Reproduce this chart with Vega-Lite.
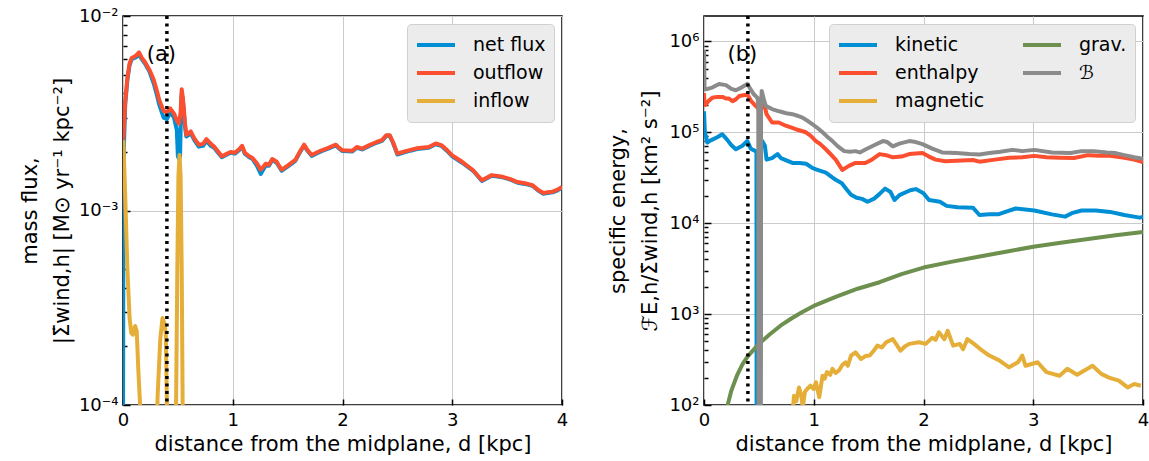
{
  "$schema": "https://vega.github.io/schema/vega-lite/v6.json",
  "background": "white",
  "padding": {"left": 18, "top": 6, "right": 2, "bottom": 4},
  "spacing": 38,
  "config": {
    "font": "DejaVu Sans",
    "view": {"stroke": "black", "strokeWidth": 1.5},
    "axis": {
      "labelFont": "DejaVu Sans", "titleFont": "DejaVu Sans",
      "labelFontSize": 18, "titleFontSize": 21, "titleFontWeight": "normal",
      "labelColor": "black", "titleColor": "black",
      "domain": false, "tickColor": "black", "tickWidth": 1.5,
      "gridColor": "#cbcbcb", "gridWidth": 1, "labelOverlap": false, "labelFlush": false
    },
    "legend": {
      "labelFont": "DejaVu Sans", "labelFontSize": 19, "labelColor": "black"
    }
  },
  "datasets": {
    "flux": [
      {"d":0.0,"v":0.00005,"s":"net flux"},{"d":0.004,"v":0.0015,"s":"net flux"},{"d":0.01,"v":0.0023,"s":"net flux"},{"d":0.02,"v":0.0035,"s":"net flux"},{"d":0.04,"v":0.0047,"s":"net flux"},{"d":0.06,"v":0.0056,"s":"net flux"},{"d":0.08,"v":0.006,"s":"net flux"},{"d":0.11,"v":0.0061,"s":"net flux"},{"d":0.146,"v":0.0063,"s":"net flux"},{"d":0.17,"v":0.006,"s":"net flux"},{"d":0.2,"v":0.0057,"s":"net flux"},{"d":0.24,"v":0.0052,"s":"net flux"},{"d":0.28,"v":0.0045,"s":"net flux"},{"d":0.31,"v":0.0039,"s":"net flux"},{"d":0.33,"v":0.0035,"s":"net flux"},{"d":0.37,"v":0.003,"s":"net flux"},{"d":0.4,"v":0.00295,"s":"net flux"},{"d":0.43,"v":0.0032,"s":"net flux"},{"d":0.465,"v":0.003,"s":"net flux"},{"d":0.49,"v":0.0026,"s":"net flux"},{"d":0.5,"v":0.0019,"s":"net flux"},{"d":0.51,"v":0.00185,"s":"net flux"},{"d":0.52,"v":0.0019,"s":"net flux"},{"d":0.53,"v":0.0035,"s":"net flux"},{"d":0.535,"v":0.004,"s":"net flux"},{"d":0.545,"v":0.0037,"s":"net flux"},{"d":0.555,"v":0.0032,"s":"net flux"},{"d":0.565,"v":0.0027,"s":"net flux"},{"d":0.577,"v":0.0024,"s":"net flux"},{"d":0.6,"v":0.00245,"s":"net flux"},{"d":0.617,"v":0.0025,"s":"net flux"},{"d":0.65,"v":0.0023,"s":"net flux"},{"d":0.69,"v":0.00213,"s":"net flux"},{"d":0.73,"v":0.00215,"s":"net flux"},{"d":0.76,"v":0.00228,"s":"net flux"},{"d":0.8,"v":0.00215,"s":"net flux"},{"d":0.83,"v":0.0021,"s":"net flux"},{"d":0.87,"v":0.00197,"s":"net flux"},{"d":0.9,"v":0.00188,"s":"net flux"},{"d":0.94,"v":0.00193,"s":"net flux"},{"d":0.98,"v":0.00198,"s":"net flux"},{"d":1.02,"v":0.00196,"s":"net flux"},{"d":1.06,"v":0.00205,"s":"net flux"},{"d":1.085,"v":0.00213,"s":"net flux"},{"d":1.11,"v":0.00196,"s":"net flux"},{"d":1.15,"v":0.00188,"s":"net flux"},{"d":1.18,"v":0.00184,"s":"net flux"},{"d":1.22,"v":0.0017,"s":"net flux"},{"d":1.255,"v":0.00154,"s":"net flux"},{"d":1.28,"v":0.00163,"s":"net flux"},{"d":1.3,"v":0.0017,"s":"net flux"},{"d":1.33,"v":0.0017,"s":"net flux"},{"d":1.36,"v":0.00182,"s":"net flux"},{"d":1.4,"v":0.00176,"s":"net flux"},{"d":1.445,"v":0.0016,"s":"net flux"},{"d":1.5,"v":0.00168,"s":"net flux"},{"d":1.57,"v":0.0018,"s":"net flux"},{"d":1.61,"v":0.00198,"s":"net flux"},{"d":1.65,"v":0.00216,"s":"net flux"},{"d":1.68,"v":0.00203,"s":"net flux"},{"d":1.72,"v":0.00191,"s":"net flux"},{"d":1.76,"v":0.00196,"s":"net flux"},{"d":1.81,"v":0.00202,"s":"net flux"},{"d":1.87,"v":0.00208,"s":"net flux"},{"d":1.94,"v":0.00216,"s":"net flux"},{"d":1.97,"v":0.00208,"s":"net flux"},{"d":2.0,"v":0.00202,"s":"net flux"},{"d":2.09,"v":0.00201,"s":"net flux"},{"d":2.13,"v":0.0021,"s":"net flux"},{"d":2.18,"v":0.00206,"s":"net flux"},{"d":2.245,"v":0.00215,"s":"net flux"},{"d":2.31,"v":0.00223,"s":"net flux"},{"d":2.36,"v":0.00228,"s":"net flux"},{"d":2.4,"v":0.00242,"s":"net flux"},{"d":2.43,"v":0.00242,"s":"net flux"},{"d":2.46,"v":0.00223,"s":"net flux"},{"d":2.5,"v":0.00194,"s":"net flux"},{"d":2.55,"v":0.00198,"s":"net flux"},{"d":2.62,"v":0.00203,"s":"net flux"},{"d":2.68,"v":0.00207,"s":"net flux"},{"d":2.785,"v":0.0021,"s":"net flux"},{"d":2.85,"v":0.00219,"s":"net flux"},{"d":2.9,"v":0.00215,"s":"net flux"},{"d":2.95,"v":0.00203,"s":"net flux"},{"d":3.0,"v":0.0019,"s":"net flux"},{"d":3.09,"v":0.00176,"s":"net flux"},{"d":3.19,"v":0.0016,"s":"net flux"},{"d":3.27,"v":0.00142,"s":"net flux"},{"d":3.36,"v":0.00151,"s":"net flux"},{"d":3.46,"v":0.00148,"s":"net flux"},{"d":3.53,"v":0.00144,"s":"net flux"},{"d":3.595,"v":0.00139,"s":"net flux"},{"d":3.66,"v":0.00137,"s":"net flux"},{"d":3.73,"v":0.00134,"s":"net flux"},{"d":3.78,"v":0.00127,"s":"net flux"},{"d":3.83,"v":0.00122,"s":"net flux"},{"d":3.87,"v":0.00123,"s":"net flux"},{"d":3.915,"v":0.00124,"s":"net flux"},{"d":3.96,"v":0.00127,"s":"net flux"},{"d":4.0,"v":0.00131,"s":"net flux"},

      {"d":0.0,"v":0.0023,"s":"outflow"},{"d":0.005,"v":0.0024,"s":"outflow"},{"d":0.02,"v":0.0036,"s":"outflow"},{"d":0.04,"v":0.0048,"s":"outflow"},{"d":0.06,"v":0.0057,"s":"outflow"},{"d":0.08,"v":0.0061,"s":"outflow"},{"d":0.11,"v":0.0062,"s":"outflow"},{"d":0.146,"v":0.0065,"s":"outflow"},{"d":0.17,"v":0.0061,"s":"outflow"},{"d":0.2,"v":0.0058,"s":"outflow"},{"d":0.24,"v":0.0053,"s":"outflow"},{"d":0.28,"v":0.0047,"s":"outflow"},{"d":0.31,"v":0.0041,"s":"outflow"},{"d":0.33,"v":0.0037,"s":"outflow"},{"d":0.37,"v":0.00325,"s":"outflow"},{"d":0.4,"v":0.0032,"s":"outflow"},{"d":0.43,"v":0.00335,"s":"outflow"},{"d":0.465,"v":0.00315,"s":"outflow"},{"d":0.49,"v":0.0029,"s":"outflow"},{"d":0.51,"v":0.0028,"s":"outflow"},{"d":0.525,"v":0.0032,"s":"outflow"},{"d":0.535,"v":0.0042,"s":"outflow"},{"d":0.545,"v":0.0038,"s":"outflow"},{"d":0.555,"v":0.0033,"s":"outflow"},{"d":0.565,"v":0.0028,"s":"outflow"},{"d":0.577,"v":0.00245,"s":"outflow"},{"d":0.6,"v":0.0025,"s":"outflow"},{"d":0.617,"v":0.00255,"s":"outflow"},{"d":0.65,"v":0.00235,"s":"outflow"},{"d":0.69,"v":0.00218,"s":"outflow"},{"d":0.73,"v":0.0022,"s":"outflow"},{"d":0.76,"v":0.00233,"s":"outflow"},{"d":0.8,"v":0.0022,"s":"outflow"},{"d":0.83,"v":0.00213,"s":"outflow"},{"d":0.87,"v":0.002,"s":"outflow"},{"d":0.9,"v":0.0019,"s":"outflow"},{"d":0.94,"v":0.00195,"s":"outflow"},{"d":0.98,"v":0.002,"s":"outflow"},{"d":1.02,"v":0.00198,"s":"outflow"},{"d":1.06,"v":0.00207,"s":"outflow"},{"d":1.085,"v":0.00215,"s":"outflow"},{"d":1.11,"v":0.00198,"s":"outflow"},{"d":1.15,"v":0.0019,"s":"outflow"},{"d":1.18,"v":0.00186,"s":"outflow"},{"d":1.22,"v":0.00175,"s":"outflow"},{"d":1.255,"v":0.00162,"s":"outflow"},{"d":1.28,"v":0.00168,"s":"outflow"},{"d":1.3,"v":0.00174,"s":"outflow"},{"d":1.33,"v":0.00172,"s":"outflow"},{"d":1.36,"v":0.00184,"s":"outflow"},{"d":1.4,"v":0.00178,"s":"outflow"},{"d":1.445,"v":0.00162,"s":"outflow"},{"d":1.5,"v":0.0017,"s":"outflow"},{"d":1.57,"v":0.00182,"s":"outflow"},{"d":1.61,"v":0.002,"s":"outflow"},{"d":1.65,"v":0.00218,"s":"outflow"},{"d":1.68,"v":0.00205,"s":"outflow"},{"d":1.72,"v":0.00193,"s":"outflow"},{"d":1.76,"v":0.00198,"s":"outflow"},{"d":1.81,"v":0.00204,"s":"outflow"},{"d":1.87,"v":0.0021,"s":"outflow"},{"d":1.94,"v":0.00218,"s":"outflow"},{"d":1.97,"v":0.0021,"s":"outflow"},{"d":2.0,"v":0.00204,"s":"outflow"},{"d":2.09,"v":0.00203,"s":"outflow"},{"d":2.13,"v":0.00212,"s":"outflow"},{"d":2.18,"v":0.00208,"s":"outflow"},{"d":2.245,"v":0.00217,"s":"outflow"},{"d":2.31,"v":0.00225,"s":"outflow"},{"d":2.36,"v":0.0023,"s":"outflow"},{"d":2.4,"v":0.00244,"s":"outflow"},{"d":2.43,"v":0.00244,"s":"outflow"},{"d":2.46,"v":0.00225,"s":"outflow"},{"d":2.5,"v":0.00196,"s":"outflow"},{"d":2.55,"v":0.002,"s":"outflow"},{"d":2.62,"v":0.00205,"s":"outflow"},{"d":2.68,"v":0.00209,"s":"outflow"},{"d":2.785,"v":0.00212,"s":"outflow"},{"d":2.85,"v":0.00221,"s":"outflow"},{"d":2.9,"v":0.00217,"s":"outflow"},{"d":2.95,"v":0.00205,"s":"outflow"},{"d":3.0,"v":0.00192,"s":"outflow"},{"d":3.09,"v":0.00178,"s":"outflow"},{"d":3.19,"v":0.00161,"s":"outflow"},{"d":3.27,"v":0.00143,"s":"outflow"},{"d":3.36,"v":0.00152,"s":"outflow"},{"d":3.46,"v":0.00149,"s":"outflow"},{"d":3.53,"v":0.00145,"s":"outflow"},{"d":3.595,"v":0.0014,"s":"outflow"},{"d":3.66,"v":0.00138,"s":"outflow"},{"d":3.73,"v":0.00135,"s":"outflow"},{"d":3.78,"v":0.00128,"s":"outflow"},{"d":3.83,"v":0.00123,"s":"outflow"},{"d":3.87,"v":0.00124,"s":"outflow"},{"d":3.915,"v":0.00125,"s":"outflow"},{"d":3.96,"v":0.00128,"s":"outflow"},{"d":4.0,"v":0.00132,"s":"outflow"},

      {"d":0.003,"v":0.0023,"s":"inflow"},{"d":0.02,"v":0.0012,"s":"inflow"},{"d":0.04,"v":0.0005,"s":"inflow"},{"d":0.06,"v":0.00028,"s":"inflow"},{"d":0.075,"v":0.000235,"s":"inflow"},{"d":0.09,"v":0.00023,"s":"inflow"},{"d":0.11,"v":0.000255,"s":"inflow"},{"d":0.125,"v":0.00024,"s":"inflow"},{"d":0.14,"v":0.00015,"s":"inflow"},{"d":0.16,"v":0.00009,"s":"inflow"},{"d":0.18,"v":0.00003,"s":"inflow"},{"d":0.29,"v":0.00003,"s":"inflow"},{"d":0.315,"v":0.00011,"s":"inflow"},{"d":0.34,"v":0.00022,"s":"inflow"},{"d":0.36,"v":0.00028,"s":"inflow"},{"d":0.38,"v":0.00026,"s":"inflow"},{"d":0.39,"v":0.00023,"s":"inflow"},{"d":0.4,"v":0.0001,"s":"inflow"},{"d":0.42,"v":0.00003,"s":"inflow"},{"d":0.475,"v":0.00003,"s":"inflow"},{"d":0.495,"v":0.0005,"s":"inflow"},{"d":0.505,"v":0.0015,"s":"inflow"},{"d":0.515,"v":0.00193,"s":"inflow"},{"d":0.525,"v":0.0015,"s":"inflow"},{"d":0.535,"v":0.0005,"s":"inflow"},{"d":0.55,"v":0.00003,"s":"inflow"},{"d":4.0,"v":0.00003,"s":"inflow"}
    ],
    "energy": [
      {"d":0.0,"v":170000,"s":"kinetic"},{"d":0.008,"v":100000,"s":"kinetic"},{"d":0.015,"v":92000,"s":"kinetic"},{"d":0.03,"v":77000,"s":"kinetic"},{"d":0.05,"v":80000,"s":"kinetic"},{"d":0.076,"v":83000,"s":"kinetic"},{"d":0.12,"v":88000,"s":"kinetic"},{"d":0.167,"v":95000,"s":"kinetic"},{"d":0.21,"v":83000,"s":"kinetic"},{"d":0.25,"v":72000,"s":"kinetic"},{"d":0.29,"v":65000,"s":"kinetic"},{"d":0.35,"v":71000,"s":"kinetic"},{"d":0.395,"v":80000,"s":"kinetic"},{"d":0.426,"v":66000,"s":"kinetic"},{"d":0.47,"v":62000,"s":"kinetic"},{"d":0.478,"v":60000,"s":"kinetic"},{"d":0.48,"v":1,"s":"kinetic"},{"d":0.51,"v":1,"s":"kinetic"},{"d":0.52,"v":70000,"s":"kinetic"},{"d":0.53,"v":80000,"s":"kinetic"},{"d":0.555,"v":71000,"s":"kinetic"},{"d":0.57,"v":50000,"s":"kinetic"},{"d":0.62,"v":52000,"s":"kinetic"},{"d":0.67,"v":57500,"s":"kinetic"},{"d":0.7,"v":52000,"s":"kinetic"},{"d":0.75,"v":49000,"s":"kinetic"},{"d":0.806,"v":46000,"s":"kinetic"},{"d":0.87,"v":46000,"s":"kinetic"},{"d":0.93,"v":45000,"s":"kinetic"},{"d":0.98,"v":41000,"s":"kinetic"},{"d":1.02,"v":39000,"s":"kinetic"},{"d":1.11,"v":36000,"s":"kinetic"},{"d":1.2,"v":30000,"s":"kinetic"},{"d":1.256,"v":27500,"s":"kinetic"},{"d":1.3,"v":23500,"s":"kinetic"},{"d":1.34,"v":20500,"s":"kinetic"},{"d":1.39,"v":19000,"s":"kinetic"},{"d":1.44,"v":18500,"s":"kinetic"},{"d":1.49,"v":17200,"s":"kinetic"},{"d":1.55,"v":18600,"s":"kinetic"},{"d":1.6,"v":21000,"s":"kinetic"},{"d":1.65,"v":24000,"s":"kinetic"},{"d":1.7,"v":22000,"s":"kinetic"},{"d":1.735,"v":18000,"s":"kinetic"},{"d":1.785,"v":20500,"s":"kinetic"},{"d":1.88,"v":23000,"s":"kinetic"},{"d":1.93,"v":23700,"s":"kinetic"},{"d":2.0,"v":21300,"s":"kinetic"},{"d":2.05,"v":18000,"s":"kinetic"},{"d":2.15,"v":17200,"s":"kinetic"},{"d":2.21,"v":15500,"s":"kinetic"},{"d":2.31,"v":15000,"s":"kinetic"},{"d":2.45,"v":14800,"s":"kinetic"},{"d":2.51,"v":12300,"s":"kinetic"},{"d":2.6,"v":12500,"s":"kinetic"},{"d":2.68,"v":12500,"s":"kinetic"},{"d":2.76,"v":13500,"s":"kinetic"},{"d":2.84,"v":14500,"s":"kinetic"},{"d":3.01,"v":13800,"s":"kinetic"},{"d":3.17,"v":12500,"s":"kinetic"},{"d":3.29,"v":11800,"s":"kinetic"},{"d":3.36,"v":13000,"s":"kinetic"},{"d":3.44,"v":13800,"s":"kinetic"},{"d":3.57,"v":13800,"s":"kinetic"},{"d":3.7,"v":13300,"s":"kinetic"},{"d":3.83,"v":12300,"s":"kinetic"},{"d":3.97,"v":11500,"s":"kinetic"},{"d":4.0,"v":11700,"s":"kinetic"},

      {"d":0.0,"v":270000,"s":"enthalpy"},{"d":0.005,"v":200000,"s":"enthalpy"},{"d":0.015,"v":200000,"s":"enthalpy"},{"d":0.04,"v":220000,"s":"enthalpy"},{"d":0.076,"v":240000,"s":"enthalpy"},{"d":0.12,"v":245000,"s":"enthalpy"},{"d":0.167,"v":245000,"s":"enthalpy"},{"d":0.2,"v":235000,"s":"enthalpy"},{"d":0.228,"v":235000,"s":"enthalpy"},{"d":0.26,"v":220000,"s":"enthalpy"},{"d":0.29,"v":230000,"s":"enthalpy"},{"d":0.32,"v":250000,"s":"enthalpy"},{"d":0.36,"v":255000,"s":"enthalpy"},{"d":0.395,"v":260000,"s":"enthalpy"},{"d":0.43,"v":220000,"s":"enthalpy"},{"d":0.47,"v":195000,"s":"enthalpy"},{"d":0.5,"v":180000,"s":"enthalpy"},{"d":0.503,"v":1,"s":"enthalpy"},{"d":0.51,"v":1,"s":"enthalpy"},{"d":0.515,"v":180000,"s":"enthalpy"},{"d":0.547,"v":210000,"s":"enthalpy"},{"d":0.57,"v":158000,"s":"enthalpy"},{"d":0.62,"v":128000,"s":"enthalpy"},{"d":0.68,"v":128000,"s":"enthalpy"},{"d":0.745,"v":118000,"s":"enthalpy"},{"d":0.837,"v":108000,"s":"enthalpy"},{"d":0.928,"v":100000,"s":"enthalpy"},{"d":0.97,"v":92000,"s":"enthalpy"},{"d":1.02,"v":80000,"s":"enthalpy"},{"d":1.06,"v":74000,"s":"enthalpy"},{"d":1.11,"v":65000,"s":"enthalpy"},{"d":1.15,"v":58000,"s":"enthalpy"},{"d":1.2,"v":50000,"s":"enthalpy"},{"d":1.26,"v":38500,"s":"enthalpy"},{"d":1.32,"v":42700,"s":"enthalpy"},{"d":1.38,"v":46000,"s":"enthalpy"},{"d":1.47,"v":46000,"s":"enthalpy"},{"d":1.53,"v":50000,"s":"enthalpy"},{"d":1.6,"v":57500,"s":"enthalpy"},{"d":1.66,"v":56000,"s":"enthalpy"},{"d":1.72,"v":53000,"s":"enthalpy"},{"d":1.8,"v":54000,"s":"enthalpy"},{"d":1.87,"v":57500,"s":"enthalpy"},{"d":1.99,"v":59000,"s":"enthalpy"},{"d":2.05,"v":54000,"s":"enthalpy"},{"d":2.11,"v":50000,"s":"enthalpy"},{"d":2.2,"v":48000,"s":"enthalpy"},{"d":2.3,"v":48500,"s":"enthalpy"},{"d":2.45,"v":49500,"s":"enthalpy"},{"d":2.51,"v":47500,"s":"enthalpy"},{"d":2.65,"v":50000,"s":"enthalpy"},{"d":2.78,"v":52500,"s":"enthalpy"},{"d":2.9,"v":53000,"s":"enthalpy"},{"d":3.01,"v":55000,"s":"enthalpy"},{"d":3.12,"v":53000,"s":"enthalpy"},{"d":3.24,"v":52500,"s":"enthalpy"},{"d":3.37,"v":52000,"s":"enthalpy"},{"d":3.5,"v":56000,"s":"enthalpy"},{"d":3.6,"v":55000,"s":"enthalpy"},{"d":3.7,"v":55000,"s":"enthalpy"},{"d":3.83,"v":52500,"s":"enthalpy"},{"d":3.92,"v":50000,"s":"enthalpy"},{"d":4.0,"v":47000,"s":"enthalpy"},

      {"d":0.81,"v":90,"s":"magnetic"},{"d":0.82,"v":126,"s":"magnetic"},{"d":0.84,"v":110,"s":"magnetic"},{"d":0.866,"v":156,"s":"magnetic"},{"d":0.885,"v":130,"s":"magnetic"},{"d":0.9,"v":95,"s":"magnetic"},{"d":0.92,"v":140,"s":"magnetic"},{"d":0.94,"v":150,"s":"magnetic"},{"d":0.97,"v":163,"s":"magnetic"},{"d":1.0,"v":150,"s":"magnetic"},{"d":1.02,"v":178,"s":"magnetic"},{"d":1.05,"v":122,"s":"magnetic"},{"d":1.08,"v":210,"s":"magnetic"},{"d":1.1,"v":195,"s":"magnetic"},{"d":1.12,"v":230,"s":"magnetic"},{"d":1.15,"v":215,"s":"magnetic"},{"d":1.17,"v":250,"s":"magnetic"},{"d":1.2,"v":225,"s":"magnetic"},{"d":1.23,"v":240,"s":"magnetic"},{"d":1.26,"v":275,"s":"magnetic"},{"d":1.29,"v":295,"s":"magnetic"},{"d":1.31,"v":270,"s":"magnetic"},{"d":1.34,"v":350,"s":"magnetic"},{"d":1.38,"v":380,"s":"magnetic"},{"d":1.43,"v":320,"s":"magnetic"},{"d":1.47,"v":345,"s":"magnetic"},{"d":1.51,"v":350,"s":"magnetic"},{"d":1.55,"v":400,"s":"magnetic"},{"d":1.58,"v":450,"s":"magnetic"},{"d":1.62,"v":430,"s":"magnetic"},{"d":1.66,"v":490,"s":"magnetic"},{"d":1.72,"v":530,"s":"magnetic"},{"d":1.75,"v":470,"s":"magnetic"},{"d":1.79,"v":395,"s":"magnetic"},{"d":1.83,"v":440,"s":"magnetic"},{"d":1.87,"v":470,"s":"magnetic"},{"d":1.96,"v":490,"s":"magnetic"},{"d":2.02,"v":470,"s":"magnetic"},{"d":2.08,"v":550,"s":"magnetic"},{"d":2.11,"v":520,"s":"magnetic"},{"d":2.14,"v":630,"s":"magnetic"},{"d":2.19,"v":530,"s":"magnetic"},{"d":2.22,"v":655,"s":"magnetic"},{"d":2.27,"v":450,"s":"magnetic"},{"d":2.33,"v":470,"s":"magnetic"},{"d":2.36,"v":410,"s":"magnetic"},{"d":2.4,"v":530,"s":"magnetic"},{"d":2.46,"v":470,"s":"magnetic"},{"d":2.52,"v":410,"s":"magnetic"},{"d":2.6,"v":350,"s":"magnetic"},{"d":2.69,"v":310,"s":"magnetic"},{"d":2.78,"v":260,"s":"magnetic"},{"d":2.86,"v":295,"s":"magnetic"},{"d":2.9,"v":350,"s":"magnetic"},{"d":2.93,"v":270,"s":"magnetic"},{"d":3.04,"v":295,"s":"magnetic"},{"d":3.12,"v":230,"s":"magnetic"},{"d":3.24,"v":210,"s":"magnetic"},{"d":3.31,"v":250,"s":"magnetic"},{"d":3.4,"v":215,"s":"magnetic"},{"d":3.54,"v":270,"s":"magnetic"},{"d":3.62,"v":220,"s":"magnetic"},{"d":3.69,"v":200,"s":"magnetic"},{"d":3.78,"v":185,"s":"magnetic"},{"d":3.86,"v":156,"s":"magnetic"},{"d":3.92,"v":170,"s":"magnetic"},{"d":3.98,"v":163,"s":"magnetic"},

      {"d":0.2,"v":80,"s":"grav."},{"d":0.22,"v":105,"s":"grav."},{"d":0.25,"v":145,"s":"grav."},{"d":0.3,"v":210,"s":"grav."},{"d":0.35,"v":280,"s":"grav."},{"d":0.4,"v":345,"s":"grav."},{"d":0.5,"v":470,"s":"grav."},{"d":0.6,"v":600,"s":"grav."},{"d":0.7,"v":750,"s":"grav."},{"d":0.8,"v":900,"s":"grav."},{"d":0.9,"v":1060,"s":"grav."},{"d":1.0,"v":1230,"s":"grav."},{"d":1.2,"v":1550,"s":"grav."},{"d":1.4,"v":1900,"s":"grav."},{"d":1.6,"v":2240,"s":"grav."},{"d":1.8,"v":2750,"s":"grav."},{"d":2.0,"v":3250,"s":"grav."},{"d":2.25,"v":3750,"s":"grav."},{"d":2.5,"v":4270,"s":"grav."},{"d":2.75,"v":4850,"s":"grav."},{"d":3.0,"v":5500,"s":"grav."},{"d":3.25,"v":6100,"s":"grav."},{"d":3.5,"v":6700,"s":"grav."},{"d":3.75,"v":7350,"s":"grav."},{"d":4.0,"v":8000,"s":"grav."},

      {"d":0.0,"v":800000,"s":"ℬ"},{"d":0.005,"v":300000,"s":"ℬ"},{"d":0.015,"v":296000,"s":"ℬ"},{"d":0.075,"v":310000,"s":"ℬ"},{"d":0.137,"v":340000,"s":"ℬ"},{"d":0.2,"v":330000,"s":"ℬ"},{"d":0.25,"v":300000,"s":"ℬ"},{"d":0.29,"v":290000,"s":"ℬ"},{"d":0.34,"v":310000,"s":"ℬ"},{"d":0.395,"v":340000,"s":"ℬ"},{"d":0.43,"v":290000,"s":"ℬ"},{"d":0.456,"v":260000,"s":"ℬ"},{"d":0.487,"v":240000,"s":"ℬ"},{"d":0.495,"v":200000,"s":"ℬ"},{"d":0.498,"v":1,"s":"ℬ"},{"d":0.514,"v":1,"s":"ℬ"},{"d":0.52,"v":200000,"s":"ℬ"},{"d":0.526,"v":285000,"s":"ℬ"},{"d":0.545,"v":230000,"s":"ℬ"},{"d":0.563,"v":195000,"s":"ℬ"},{"d":0.62,"v":180000,"s":"ℬ"},{"d":0.684,"v":170000,"s":"ℬ"},{"d":0.75,"v":162000,"s":"ℬ"},{"d":0.806,"v":158000,"s":"ℬ"},{"d":0.85,"v":152000,"s":"ℬ"},{"d":0.897,"v":145000,"s":"ℬ"},{"d":0.95,"v":132000,"s":"ℬ"},{"d":0.99,"v":122000,"s":"ℬ"},{"d":1.04,"v":110000,"s":"ℬ"},{"d":1.08,"v":100000,"s":"ℬ"},{"d":1.12,"v":90000,"s":"ℬ"},{"d":1.17,"v":80000,"s":"ℬ"},{"d":1.22,"v":70000,"s":"ℬ"},{"d":1.277,"v":62000,"s":"ℬ"},{"d":1.33,"v":61000,"s":"ℬ"},{"d":1.38,"v":62000,"s":"ℬ"},{"d":1.42,"v":60000,"s":"ℬ"},{"d":1.475,"v":65000,"s":"ℬ"},{"d":1.55,"v":72000,"s":"ℬ"},{"d":1.63,"v":80000,"s":"ℬ"},{"d":1.67,"v":78000,"s":"ℬ"},{"d":1.72,"v":70000,"s":"ℬ"},{"d":1.78,"v":75000,"s":"ℬ"},{"d":1.87,"v":80000,"s":"ℬ"},{"d":1.93,"v":78000,"s":"ℬ"},{"d":1.99,"v":74000,"s":"ℬ"},{"d":2.08,"v":66000,"s":"ℬ"},{"d":2.17,"v":60000,"s":"ℬ"},{"d":2.3,"v":59000,"s":"ℬ"},{"d":2.42,"v":57500,"s":"ℬ"},{"d":2.51,"v":57000,"s":"ℬ"},{"d":2.6,"v":59000,"s":"ℬ"},{"d":2.7,"v":61000,"s":"ℬ"},{"d":2.81,"v":64000,"s":"ℬ"},{"d":2.9,"v":62000,"s":"ℬ"},{"d":3.01,"v":64000,"s":"ℬ"},{"d":3.17,"v":60000,"s":"ℬ"},{"d":3.34,"v":59000,"s":"ℬ"},{"d":3.44,"v":62000,"s":"ℬ"},{"d":3.55,"v":62000,"s":"ℬ"},{"d":3.67,"v":60000,"s":"ℬ"},{"d":3.75,"v":59000,"s":"ℬ"},{"d":3.83,"v":56000,"s":"ℬ"},{"d":3.92,"v":53000,"s":"ℬ"},{"d":4.0,"v":51000,"s":"ℬ"}
    ]
  },
  "hconcat": [
    {
      "width": 439, "height": 389,
      "layer": [
        {
          "data": {"name": "flux"},
          "mark": {"type": "line", "strokeWidth": 4, "clip": true, "strokeJoin": "round"},
          "encoding": {
            "x": {"field": "d", "type": "quantitative", "scale": {"domain": [0, 4], "nice": false},
              "axis": {"title": "distance from the midplane, d [kpc]", "values": [0,1,2,3,4], "format": "d", "tickSize": -6, "labelPadding": 12, "titlePadding": 4}},
            "y": {"field": "v", "type": "quantitative", "scale": {"type": "log", "domain": [0.0001, 0.01], "nice": false},
              "axis": {
                "title": ["mass flux,", "|Σ̇wind,h| [M⊙ yr⁻¹ kpc⁻²]"], "titleLineHeight": 32, "titlePadding": 6, "labelPadding": 12,
                "values": [0.0001,0.0002,0.0003,0.0004,0.0005,0.0006,0.0007,0.0008,0.0009,0.001,0.002,0.003,0.004,0.005,0.006,0.007,0.008,0.009,0.01],
                "labelExpr": "datum.value == 0.01 ? '10⁻²' : datum.value == 0.001 ? '10⁻³' : datum.value == 0.0001 ? '10⁻⁴' : ''",
                "tickSize": {"condition": {"test": "datum.value == 0.01 || datum.value == 0.001 || datum.value == 0.0001", "value": -7}, "value": -4},
                "gridOpacity": {"condition": {"test": "datum.value == 0.01 || datum.value == 0.001 || datum.value == 0.0001", "value": 1}, "value": 0}
              }},
            "color": {"field": "s", "type": "nominal", "sort": null,
              "scale": {"domain": ["net flux", "outflow", "inflow"], "range": ["#008fd5", "#fc4f30", "#e5ae38"]},
              "legend": {"title": null, "orient": "top-right", "offset": 8, "fillColor": "#ececec", "strokeColor": "#d0d0d0", "cornerRadius": 4, "padding": 8,
                "symbolType": "stroke", "symbolSize": 1444, "symbolStrokeWidth": 4, "labelOffset": 16, "clipHeight": 26, "rowPadding": 2}}
          }
        },
        {
          "data": {"values": [{"d": 0.4}]},
          "mark": {"type": "rule", "color": "black", "strokeWidth": 3.5, "strokeDash": [3, 4.5]},
          "encoding": {"x": {"field": "d", "type": "quantitative"}}
        },
        {
          "data": {"values": [{"d": 0.35, "v": 0.0063, "t": "(a)"}]},
          "mark": {"type": "text", "fontSize": 21, "color": "black", "align": "center", "baseline": "middle"},
          "encoding": {"x": {"field": "d", "type": "quantitative"}, "y": {"field": "v", "type": "quantitative"}, "text": {"field": "t"}}
        }
      ]
    },
    {
      "width": 439, "height": 389,
      "layer": [
        {
          "data": {"name": "energy"},
          "mark": {"type": "line", "strokeWidth": 4, "clip": true, "strokeJoin": "round"},
          "encoding": {
            "x": {"field": "d", "type": "quantitative", "scale": {"domain": [0, 4], "nice": false},
              "axis": {"title": "distance from the midplane, d [kpc]", "values": [0,1,2,3,4], "format": "d", "tickSize": -6, "labelPadding": 12, "titlePadding": 4}},
            "y": {"field": "v", "type": "quantitative", "scale": {"type": "log", "domain": [100, 1900000], "nice": false},
              "axis": {
                "title": ["specific energy,", "ℱE,h/Σ̇wind,h [km² s⁻²]"], "titleLineHeight": 32, "titlePadding": 8, "labelPadding": 12,
                "values": [100,200,300,400,500,600,700,800,900,1000,2000,3000,4000,5000,6000,7000,8000,9000,10000,20000,30000,40000,50000,60000,70000,80000,90000,100000,200000,300000,400000,500000,600000,700000,800000,900000,1000000],
                "labelExpr": "datum.value == 100 ? '10²' : datum.value == 1000 ? '10³' : datum.value == 10000 ? '10⁴' : datum.value == 100000 ? '10⁵' : datum.value == 1000000 ? '10⁶' : ''",
                "tickSize": {"condition": {"test": "indexof([100,1000,10000,100000,1000000], datum.value) >= 0", "value": -7}, "value": -4},
                "gridOpacity": {"condition": {"test": "indexof([100,1000,10000,100000,1000000], datum.value) >= 0", "value": 1}, "value": 0}
              }},
            "color": {"field": "s", "type": "nominal", "sort": null,
              "scale": {"domain": ["kinetic", "enthalpy", "magnetic", "grav.", "ℬ"], "range": ["#008fd5", "#fc4f30", "#e5ae38", "#6d904f", "#8b8b8b"]},
              "legend": {"title": null, "orient": "top-right", "offset": 8, "fillColor": "#ececec", "strokeColor": "#d0d0d0", "cornerRadius": 4, "padding": 8,
                "columns": 2, "columnPadding": 36,
                "symbolType": "stroke", "symbolSize": 1444, "symbolStrokeWidth": 4, "labelOffset": 16, "clipHeight": 26, "rowPadding": 2}}
          }
        },
        {
          "data": {"values": [{"d": 0.4}]},
          "mark": {"type": "rule", "color": "black", "strokeWidth": 3.5, "strokeDash": [3, 4.5]},
          "encoding": {"x": {"field": "d", "type": "quantitative"}}
        },
        {
          "data": {"values": [{"d": 0.35, "v": 700000, "t": "(b)"}]},
          "mark": {"type": "text", "fontSize": 21, "color": "black", "align": "center", "baseline": "middle"},
          "encoding": {"x": {"field": "d", "type": "quantitative"}, "y": {"field": "v", "type": "quantitative"}, "text": {"field": "t"}}
        }
      ]
    }
  ],
  "resolve": {"scale": {"color": "independent", "x": "independent", "y": "independent"}, "legend": {"color": "independent"}, "axis": {"x": "independent", "y": "independent"}}
}
